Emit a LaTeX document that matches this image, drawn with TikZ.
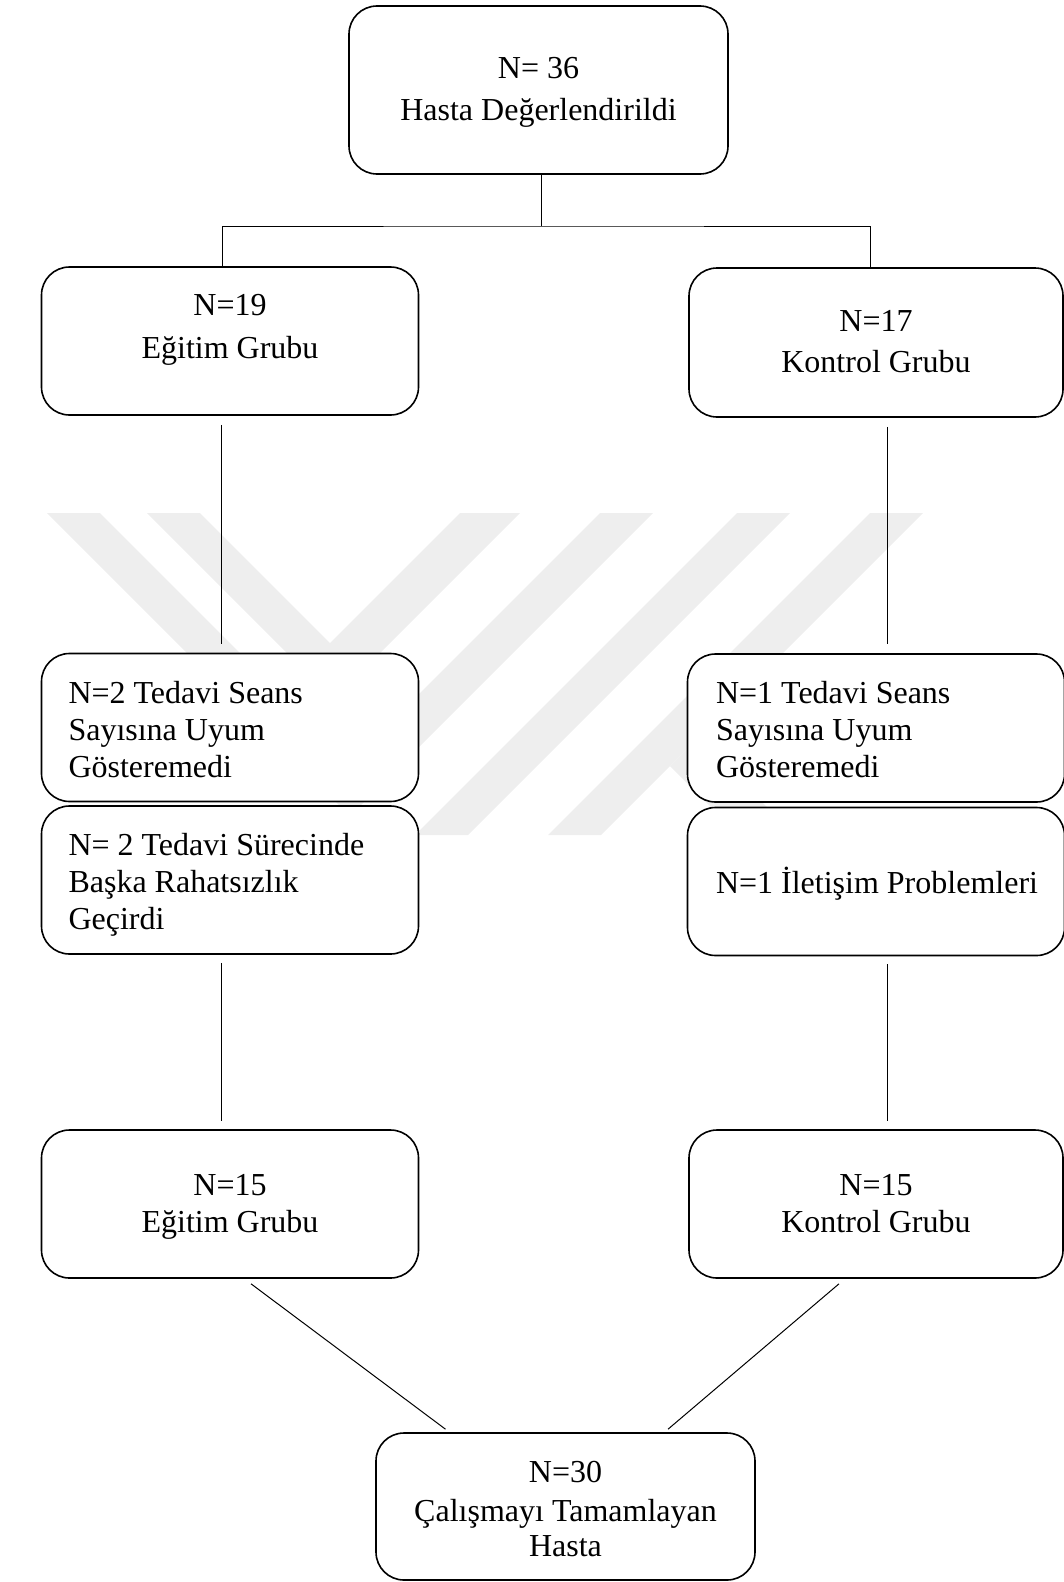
\documentclass[tikz,border=0pt]{standalone}
\usepackage{fontspec}
\setmainfont{Liberation Serif}
\usepackage{xcolor}
\definecolor{wmgray}{RGB}{238,238,238}
\newcommand{\ls}{\rule[-9pt]{0pt}{37pt}}
\newcommand{\lt}{\rule{0pt}{34pt}}

\begin{document}
\begin{tikzpicture}[x=1pt, y=-1pt,
    box/.style={rectangle, rounded corners=28pt, draw, line width=1.6pt, fill=white, minimum width=377pt, minimum height=148pt, font=\fontsize{32}{37}\selectfont, align=center},
    notebox/.style={box, inner xsep=27pt, text width=323pt, align=flush left},
    link/.style={line width=1pt}]
    \useasboundingbox (0,0) rectangle (1064,1582);

    % watermark
    \fill[wmgray] (147,513) -- (200,513) -- (330,643) -- (460,513) -- (520,513) -- (333.5,699.5) -- cycle;
    \fill[wmgray] (47,513) -- (100,513) -- (350,763) -- (600,513) -- (653,513) -- (350,816) -- cycle;
    \fill[wmgray] (737,513) -- (790,513) -- (468,835) -- (415,835) -- cycle;
    \fill[wmgray] (870,513) -- (923,513) -- (601,835) -- (548,835) -- cycle;
    \fill[wmgray] (698,738) -- (670,766) -- (739,835) -- (795,835) -- cycle;

    \node[box, minimum width=379pt, minimum height=168pt] (hasta) at (538.5,90) {\ls N= 36\\[5pt]\ls Hasta Değerlendirildi};
    \node[box] (egitim) at (230,341) {\ls N=19\\[6pt]\ls Eğitim Grubu\rule[-36pt]{0pt}{0pt}};
    \node[box, minimum width=374pt, minimum height=149pt] (kontrol) at (876,342.5) {\ls N=17\\[4pt]\ls Kontrol Grubu};

    \node[notebox] (egitimSeans) at (230,727.5) {\lt N=2 Tedavi Seans\\Sayısına Uyum\\Gösteremedi\ls};
    \node[notebox] (egitimSurec) at (230,880) {\lt N= 2 Tedavi Sürecinde\\Başka Rahatsızlık\\Geçirdi\ls};
    \node[notebox, text width=320pt] (kontrolSeans) at (876,728) {\lt N=1 Tedavi Seans\\Sayısına Uyum\\Gösteremedi\ls};
    \node[notebox, text width=320pt] (kontrolIletisim) at (876,881.5) {\rule[-9pt]{0pt}{42pt}\mbox{N=1 İletişim Problemleri}};

    \node[box] (egitimSon) at (230,1204) {\ls N=15\\\ls Eğitim Grubu};
    \node[box, minimum width=374pt] (kontrolSon) at (876,1204) {\ls N=15\\\ls Kontrol Grubu};
    \node[box, minimum width=379pt, minimum height=147pt] (tamam) at (565.5,1506.5) {\lt N=30\\[2pt]\ls Çalışmayı Tamamlayan\\[-2pt]\ls Hasta};

    \coordinate (split) at (541,226);
    \draw[link] (hasta.south -| split) -- (split);
    \draw[link] ([xshift=-8pt]egitim.north) |- (split) -| ([xshift=-6pt]kontrol.north);

    \draw[link, shorten <=9pt, shorten >=9pt] ([xshift=-9pt]egitim.south) -- ([xshift=-9pt]egitimSeans.north);
    \draw[link, shorten <=9pt, shorten >=9pt] ([xshift=11pt]kontrol.south) -- ([xshift=11pt]kontrolSeans.north);
    \draw[link, shorten <=8pt, shorten >=8pt] ([xshift=-9pt]egitimSurec.south) -- ([xshift=-9pt]egitimSon.north);
    \draw[link, shorten <=8pt, shorten >=8pt] ([xshift=11pt]kontrolIletisim.south) -- ([xshift=11pt]kontrolSon.north);

    \draw[link] ([shift={(21,5)}]egitimSon.south) -- ([shift={(-120,-3)}]tamam.north);
    \draw[link] ([shift={(-37,5)}]kontrolSon.south) -- ([shift={(102.5,-3)}]tamam.north);
\end{tikzpicture}
\end{document}
